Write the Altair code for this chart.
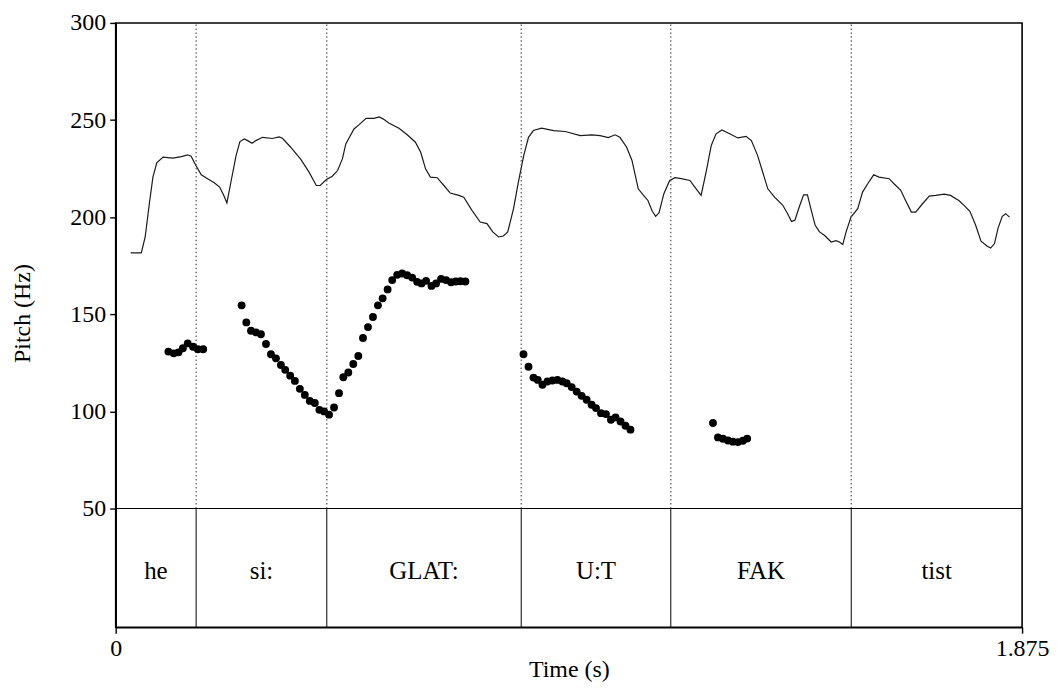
import altair as alt
import pandas as pd

# ---- data ----
line_t = [0.031, 0.053, 0.061, 0.070, 0.077, 0.085, 0.098, 0.118, 0.136, 0.149, 0.156, 0.166,
          0.177, 0.190, 0.204, 0.215, 0.223, 0.230, 0.237, 0.249, 0.257, 0.266, 0.273, 0.282,
          0.290, 0.304, 0.324, 0.338, 0.345, 0.362, 0.383, 0.400, 0.415, 0.423, 0.436, 0.448,
          0.459, 0.469, 0.476, 0.493, 0.503, 0.518, 0.534, 0.545, 0.553, 0.565, 0.586, 0.603,
          0.620, 0.631, 0.641, 0.651, 0.665, 0.679, 0.692, 0.710, 0.720, 0.737, 0.754, 0.768,
          0.780, 0.792, 0.802, 0.811, 0.823, 0.833, 0.844, 0.854, 0.864, 0.881, 0.906, 0.930,
          0.961, 0.985, 1.002, 1.019, 1.033, 1.043, 1.057, 1.068, 1.081, 1.091, 1.101, 1.110,
          1.117, 1.124, 1.134, 1.146, 1.157, 1.170, 1.188, 1.198, 1.211, 1.222, 1.232, 1.242,
          1.254, 1.270, 1.287, 1.304, 1.315, 1.328, 1.349, 1.363, 1.380, 1.390, 1.398, 1.405,
          1.414, 1.423, 1.431, 1.438, 1.447, 1.456, 1.466, 1.480, 1.490, 1.497, 1.504, 1.511,
          1.521, 1.535, 1.545, 1.557, 1.568, 1.579, 1.600, 1.610, 1.624, 1.634, 1.646, 1.655,
          1.669, 1.683, 1.696, 1.714, 1.727, 1.744, 1.755, 1.767, 1.779, 1.790, 1.803, 1.810,
          1.818, 1.825, 1.834, 1.841, 1.849]
line_v = [181.6, 181.6, 189.8, 207.7, 220.6, 228.0, 230.9, 230.4, 231.2, 232.1, 231.4, 226.6,
          221.8, 219.8, 217.7, 215.5, 211.5, 207.3, 216.3, 231.7, 238.9, 240.3, 239.4, 238.0,
          239.4, 241.1, 240.5, 241.3, 240.6, 236.0, 229.7, 223.2, 216.3, 216.3, 219.4, 221.1,
          224.0, 230.0, 237.7, 245.4, 247.5, 250.9, 250.9, 251.6, 250.6, 248.5, 245.8, 242.4,
          238.6, 233.4, 224.9, 220.6, 220.3, 216.3, 212.4, 211.2, 210.3, 203.5, 197.5, 196.7,
          192.4, 189.8, 190.3, 192.4, 204.4, 218.0, 231.7, 241.1, 244.6, 245.8, 244.6, 244.1,
          242.0, 242.4, 242.0, 241.0, 242.4, 241.1, 236.0, 229.2, 214.6, 211.5, 208.6, 203.0,
          200.4, 202.3, 212.1, 218.9, 220.3, 219.8, 218.9, 215.5, 211.2, 224.0, 236.9, 242.9,
          244.9, 242.9, 240.8, 241.6, 239.4, 231.7, 214.6, 210.3, 206.1, 201.8, 197.8, 198.4,
          205.2, 211.5, 211.5, 204.4, 195.8, 192.4, 190.7, 187.2, 187.9, 187.2, 185.9, 192.4,
          200.0, 204.4, 212.9, 217.7, 221.8, 220.6, 219.8, 217.2, 213.8, 208.6, 202.6, 202.6,
          206.9, 210.8, 211.2, 211.9, 211.2, 208.6, 206.1, 203.0, 195.8, 187.6, 185.0, 184.1,
          186.4, 194.1, 200.4, 201.8, 200.0]

pitch_t = [0.109, 0.120, 0.130, 0.139, 0.149, 0.160, 0.170, 0.181,
           0.2605, 0.2702, 0.2799, 0.2902, 0.3005, 0.3109, 0.3212, 0.3315, 0.3418, 0.3507,
           0.3610, 0.3707, 0.3810, 0.3913, 0.4016, 0.4119, 0.4214, 0.4311, 0.4414, 0.4517,
           0.4620, 0.4709, 0.4812, 0.4915, 0.5019, 0.5116, 0.5219, 0.5322, 0.5425, 0.5522,
           0.5625, 0.5720, 0.5823, 0.5926, 0.6029, 0.6133, 0.6236, 0.6326, 0.6421, 0.6533,
           0.6628, 0.6731, 0.6834, 0.6937, 0.7034, 0.7131, 0.7234,
           0.8436, 0.8540, 0.8643, 0.8731, 0.8828, 0.8931, 0.9035, 0.9138, 0.9241, 0.9330,
           0.9433, 0.9536, 0.9639, 0.9742, 0.9845, 0.9936, 1.0039, 1.0142, 1.0245, 1.0340,
           1.0443, 1.0546, 1.0649,
           1.2356, 1.2459, 1.2562, 1.2665, 1.2768, 1.2871, 1.2974, 1.3063]
pitch_v = [130.8, 129.9, 130.4, 132.5, 135.0, 133.3, 132.0, 132.0,
           154.6, 145.8, 141.5, 140.7, 139.7, 134.7, 129.4, 127.3, 123.9, 121.4,
           118.4, 115.7, 111.6, 108.5, 105.4, 104.3, 100.8, 100.0, 98.3, 102.0,
           109.4, 117.6, 120.0, 124.4, 128.5, 137.8, 143.4, 148.6, 154.6, 158.2,
           162.8, 167.6, 170.3, 171.0, 170.1, 168.9, 166.7, 165.9, 167.2, 164.6,
           165.9, 168.2, 167.6, 166.5, 166.9, 167.0, 166.9,
           129.4, 123.0, 117.4, 116.2, 113.7, 115.4, 115.9, 116.2, 115.4, 114.5,
           112.5, 110.2, 108.0, 106.0, 103.4, 101.7, 99.1, 98.6, 95.7, 96.9,
           94.8, 92.6, 90.6,
           94.0, 86.6, 85.9, 85.0, 84.4, 84.2, 84.9, 86.0]

boundaries = [0.1664, 0.4367, 0.8389, 1.1483, 1.5216]
tier_labels = ["he", "si:", "GLAT:", "U:T", "FAK", "tist"]
tier_start = [0.0] + boundaries
tier_end = boundaries + [1.875]

T_MAX = 1.875
Y_TOP = 300
Y_FLOOR = 50
Y_TIER_BOTTOM = -11.1
y_ticks = [50, 100, 150, 200, 250, 300]
x_ticks = [0, 1.875]

FONT = "Liberation Serif"
FS = 24

line_df = pd.DataFrame({"t": line_t, "v": line_v})
dots_df = pd.DataFrame({"t": pitch_t, "v": pitch_v})
bound_df = pd.DataFrame({"t": boundaries})
tier_df = pd.DataFrame({"label": tier_labels, "start": tier_start, "end": tier_end})

xscale = alt.Scale(domain=[0, T_MAX], nice=False, zero=False)
yscale = alt.Scale(domain=[Y_TIER_BOTTOM, Y_TOP], nice=False, zero=False)

x_axis = alt.Axis(values=x_ticks, format=".4~g", title="Time (s)", grid=False,
                  tickSize=6, labelPadding=3, titleY=30, labelFlush=False)
y_axis = alt.Axis(values=y_ticks, title="Pitch (Hz)", grid=False, tickSize=6,
                  labelPadding=4, titlePadding=35, titleY=291)

base_x = alt.X("t:Q", scale=xscale, axis=x_axis)
base_y = alt.Y("v:Q", scale=yscale, axis=y_axis)

line = alt.Chart(line_df).mark_line(color="#1a1a1a", strokeWidth=1.2).encode(x=base_x, y=base_y)

dots = alt.Chart(dots_df).mark_circle(color="black", size=62, opacity=1).encode(
    x=alt.X("t:Q", scale=xscale), y=alt.Y("v:Q", scale=yscale))

dotted = alt.Chart(bound_df).mark_rule(color="#555555", strokeWidth=1.2, strokeDash=[1.5, 2.5]).encode(
    x=alt.X("t:Q", scale=xscale), y=alt.Y(datum=Y_FLOOR, scale=yscale), y2=alt.Y2(datum=Y_TOP))

tier_rules = alt.Chart(bound_df).mark_rule(color="black", strokeWidth=1).encode(
    x=alt.X("t:Q", scale=xscale), y=alt.Y(datum=Y_TIER_BOTTOM, scale=yscale), y2=alt.Y2(datum=Y_FLOOR))

floor_rule = alt.Chart(pd.DataFrame({"y": [Y_FLOOR]})).mark_rule(color="black", strokeWidth=1).encode(
    x=alt.X(datum=0, scale=xscale), x2=alt.X2(datum=T_MAX), y=alt.Y("y:Q", scale=yscale))

tier_text = alt.Chart(tier_df).transform_calculate(
    mid="(datum.start + datum.end) / 2"
).mark_text(font=FONT, fontSize=25, color="black", baseline="middle", align="center", dy=3).encode(
    x=alt.X("mid:Q", scale=xscale),
    y=alt.Y(datum=(Y_FLOOR + Y_TIER_BOTTOM) / 2, scale=yscale),
    text="label:N")

chart = alt.layer(line, dotted, tier_rules, floor_rule, dots, tier_text).properties(
    width=909, height=606, padding={"left": 3, "top": 2, "right": 2, "bottom": 0}
).configure_view(
    stroke="black", strokeWidth=1.6
).configure_axis(
    labelFont=FONT, titleFont=FONT, labelFontSize=FS, titleFontSize=FS,
    titleFontWeight="normal", labelColor="black", titleColor="black",
    domainColor="black", tickColor="black", domainWidth=1.6, tickWidth=1.4
)

chart.save("out.html", embed_options={"renderer": "svg", "actions": False})
